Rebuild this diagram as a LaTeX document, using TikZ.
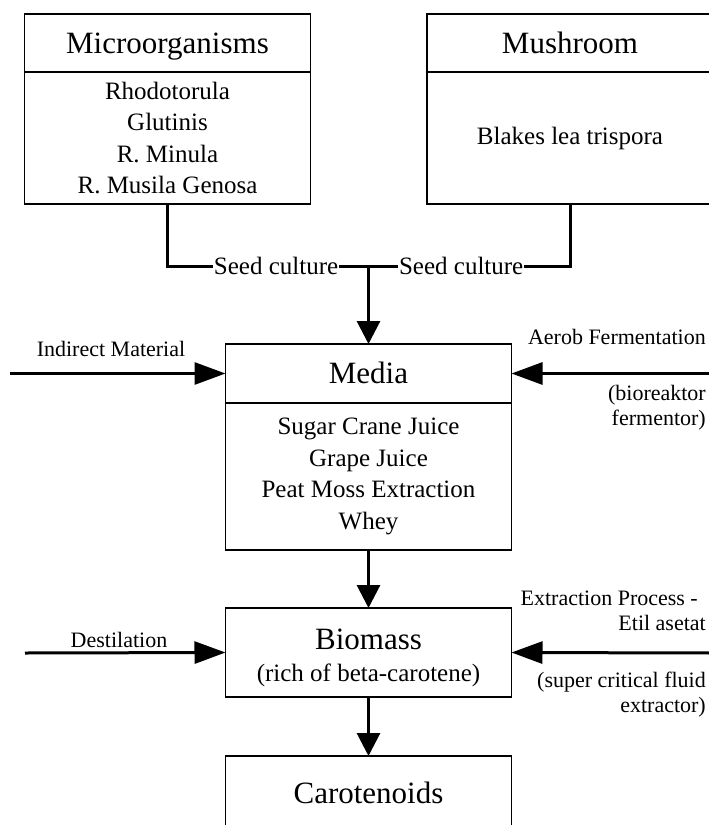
\documentclass[tikz,border=0pt]{standalone}
\usepackage{fontspec}
\setmainfont{Liberation Serif}
\usetikzlibrary{arrows.meta,positioning}
\newcommand{\hdrfont}{\fontsize{31}{36}\selectfont}
\newcommand{\bodyfont}{\fontsize{25}{31.5}\selectfont}
\newcommand{\sidefont}{\fontsize{22}{25}\selectfont}

\begin{document}
\begin{tikzpicture}[x=1pt,y=-1pt,
    box/.style={draw, line width=1.8pt, minimum width=286pt, outer sep=0pt, inner sep=0pt, align=center},
    hdr/.style={box, minimum height=58pt, font=\hdrfont, text height=24pt, text depth=4pt},
    body/.style={box, font=\bodyfont},
    link/.style={line width=3pt},
    vflow/.style={link, -{Triangle[length=23pt,width=23pt]}},
    hflow/.style={link, -{Triangle[length=31pt,width=22pt]}},
    side/.style={font=\sidefont, inner sep=0pt, align=right}]
    \useasboundingbox (0,0) rectangle (709,825);
    \clip (0,0) rectangle (709,825);

    % sources at the top
    \node[hdr] (micro) at (167.5,43) {Microorganisms};
    \node[body, minimum height=132pt, below=0pt of micro] (microbody)
        {Rhodotorula\\Glutinis\\R. Minula\\R. Musila Genosa};
    \node[hdr] (mush) at (570,43) {Mushroom};
    \node[body, minimum height=132pt, below=0pt of mush] (mushbody) {Blakes lea trispora};

    % seed culture join
    \coordinate (join) at (368.5,266);
    \draw[link] (microbody.south) |- (join)
        node[pos=0.77, fill=white, inner sep=1pt, font=\bodyfont] (seedL) {Seed culture};
    \draw[link] (mushbody.south) |- (join)
        node[pos=0.77, fill=white, inner sep=1pt, font=\bodyfont] (seedR) {Seed culture};

    % media
    \node[hdr, minimum height=59pt] (media) at (368.5,373.5) {Media};
    \node[body, minimum height=147pt, below=0pt of media] (mediabody)
        {Sugar Crane Juice\\Grape Juice\\Peat Moss Extraction\\Whey};
    \draw[vflow] (join) -- (media.north);

    \coordinate (inMatL) at (10,373.5);
    \draw[hflow] (inMatL) -- (media.west);
    \node[side] (indirect) at (111,349) {Indirect Material};
    \coordinate (inMatR) at (712,373.5);
    \draw[hflow] (inMatR) -- (media.east);
    \node[side, anchor=base east] (aerob) at (706,344) {Aerob Fermentation};
    \node[side, anchor=north east] (bioreak) at (706,384.7) {(bioreaktor\\fermentor)};

    % biomass
    \node[body, minimum height=89pt] (biomass) at (368.5,652.5)
        {{\hdrfont\rule{0pt}{31pt}Biomass}\\(rich of beta-carotene)};
    \draw[vflow] (mediabody.south) -- (biomass.north);

    \coordinate (destL) at (25,653);
    \draw[hflow] (destL) -- (biomass.west);
    \node[side] (destil) at (119,640) {Destilation};
    \coordinate (extrR) at (712,653);
    \draw[hflow] (extrR) -- (biomass.east);
    \node[side, anchor=north east] (extract) at (706,591) {Extraction Process -\hspace*{8pt}\\Etil asetat};
    \node[side, anchor=north east] (scf) at (706,671.7) {(super critical fluid\\extractor)};

    % product
    \node[hdr, minimum height=74pt] (carot) at (368.5,793) {Carotenoids};
    \draw[vflow] (biomass.south) -- (carot.north);
\end{tikzpicture}
\end{document}
